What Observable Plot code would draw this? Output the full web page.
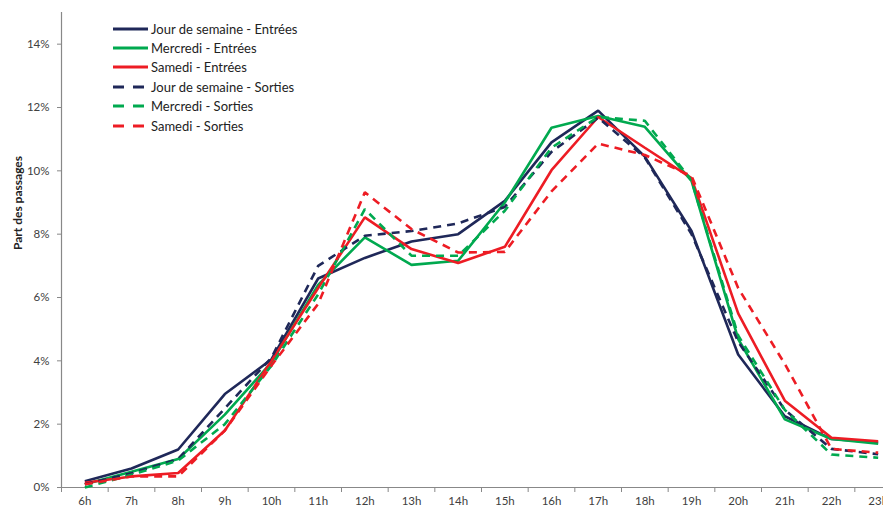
<!DOCTYPE html>
<html>
<head>
<meta charset="utf-8">
<script src="https://cdn.jsdelivr.net/npm/d3@7"></script>
<script src="https://cdn.jsdelivr.net/npm/@observablehq/plot@0.6"></script>
<style>
  html, body { margin: 0; padding: 0; background: #fff; }
  #wrap { position: relative; width: 883px; height: 507px; overflow: hidden; font-family: Lato, "Open Sans", sans-serif; }
  #legend { position: absolute; left: 90px; top: 17px; width: 218px; background: #fff; padding: 2px 0 4px 0; }
  .item { display: flex; align-items: center; height: 19.4px; font-size: 13px; color: #222; }
  .item svg { margin-left: 23px; margin-right: 3px; }
</style>
</head>
<body>
<div id="wrap"></div>
<script>
const hours = [6,7,8,9,10,11,12,13,14,15,16,17,18,19,20,21,22,23];
const hourLabels = hours.map(h => h + "h");
const seriesNames = [
  "Jour de semaine - Entrées",
  "Mercredi - Entrées",
  "Samedi - Entrées",
  "Jour de semaine - Sorties",
  "Mercredi - Sorties",
  "Samedi - Sorties"
];
const seriesColors = ["#1F2859", "#00A94F", "#ED1C24", "#1F2859", "#00A94F", "#ED1C24"];
const seriesDashed = [false, false, false, true, true, true];

// values in percent
const jourEntrees     = [0.2, 0.6, 1.2, 2.95, 4.05, 6.6, 7.25, 7.77, 8.0, 9.05, 10.9, 11.9, 10.45, 8.1, 4.2, 2.25, 1.53, 1.42];
const mercrediEntrees = [0.1, 0.5, 0.9, 2.3, 3.95, 6.4, 7.9, 7.03, 7.16, 9.0, 11.36, 11.73, 11.39, 9.68, 4.69, 2.15, 1.53, 1.38];
const samediEntrees   = [0.15, 0.35, 0.46, 1.8, 4.0, 6.3, 8.53, 7.53, 7.09, 7.6, 10.02, 11.7, 10.73, 9.77, 5.5, 2.74, 1.57, 1.46];
const jourSorties     = [0.1, 0.45, 0.9, 2.5, 4.1, 7.0, 7.95, 8.1, 8.34, 8.86, 10.6, 11.68, 10.42, 8.0, 4.6, 2.45, 1.22, 1.05];
const mercrediSorties = [0.0, 0.4, 0.85, 2.0, 3.85, 6.1, 8.79, 7.32, 7.32, 8.74, 10.73, 11.7, 11.58, 9.7, 4.8, 2.45, 1.04, 0.94];
const samediSorties   = [0.1, 0.35, 0.35, 1.8, 3.85, 5.8, 9.32, 8.16, 7.42, 7.44, 9.35, 10.86, 10.5, 9.84, 6.3, 3.9, 1.22, 1.1];

const yTicks = [0, 2, 4, 6, 8, 10, 12, 14];

const allSeries = [jourEntrees, mercrediEntrees, samediEntrees, jourSorties, mercrediSorties, samediSorties];
const rows = [];
allSeries.forEach((vals, si) => {
  vals.forEach((v, i) => rows.push({series: seriesNames[si], idx: si, hour: hours[i], value: v / 100}));
});

const bandEdges = hours.map(h => h - 0.5).concat([hours[hours.length - 1] + 0.5]);

const lineMarks = seriesNames.map((name, si) =>
  Plot.line(rows.filter(r => r.idx === si), {
    x: "hour", y: "value",
    stroke: seriesColors[si],
    strokeWidth: 2.6,
    strokeDasharray: seriesDashed[si] ? "8,6" : null,
    strokeLinejoin: "miter",
    strokeLinecap: "butt"
  })
);

const chart = Plot.plot({
  width: 883,
  height: 507,
  marginLeft: 61,
  marginRight: 0,
  marginTop: 12,
  marginBottom: 20,
  style: {fontFamily: "Lato, 'Open Sans', sans-serif", fontSize: "11.5px", color: "#404040", background: "#fff", overflow: "visible"},
  x: {type: "linear", domain: [5.5, 23.5], range: [61, 901]},
  y: {type: "linear", domain: [0, 0.15], range: [487, 12]},
  marks: [
    Plot.ruleY(yTicks.filter(t => t > 0).map(t => t / 100), {x1: 61, x2: 883, stroke: "#d9d9d9", strokeWidth: 1.3}),
    Plot.ruleX([5.5], {y1: 0, y2: 0.15, stroke: "#888", strokeWidth: 1.2}),
    Plot.ruleY([0], {x1: 5.5, x2: 23.5, stroke: "#888", strokeWidth: 1.2}),
    Plot.axisY(yTicks.map(t => t / 100), {
      tickSize: 4, tickPadding: 8, stroke: "#888",
      tickFormat: d => Math.round(d * 100) + "%",
      fontSize: 11.5, fill: "#404040",
      label: null
    }),
    Plot.axisX(bandEdges, {tickSize: 5, stroke: "#888", tickFormat: () => "", label: null}),
    Plot.axisX(hours, {tickSize: 0, tickPadding: 9, tickFormat: d => d + "h", fontSize: 11.5, fill: "#404040", label: null}),
    Plot.text(["Part des passages"], {
      frameAnchor: "left", dx: -43, rotate: -90,
      fontWeight: "bold", fontSize: 12, fill: "#222"
    }),
    ...lineMarks
  ]
});

const wrap = document.getElementById("wrap");
wrap.appendChild(chart);

const legend = document.createElement("div");
legend.id = "legend";
seriesNames.forEach((name, si) => {
  const item = document.createElement("div");
  item.className = "item";
  const dash = seriesDashed[si] ? 'stroke-dasharray="11,9"' : "";
  item.innerHTML = `<svg width="35" height="6"><line x1="0" y1="3" x2="35" y2="3" stroke="${seriesColors[si]}" stroke-width="2.8" ${dash}/></svg><span>${name}</span>`;
  legend.appendChild(item);
});
wrap.appendChild(legend);
</script>
</body>
</html>
